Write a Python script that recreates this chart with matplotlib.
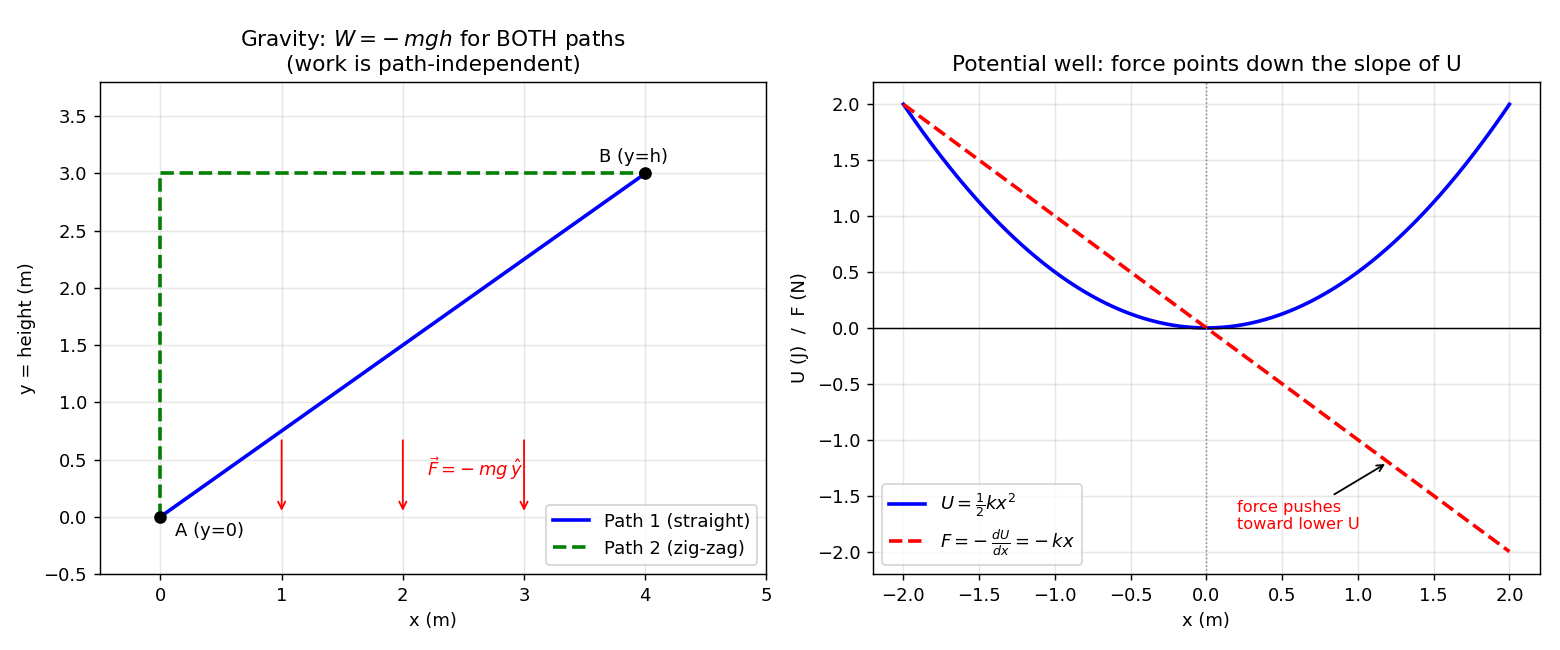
import numpy as np
import matplotlib
matplotlib.use("Agg")
from matplotlib import pyplot as plt

# left panel: two paths from A to B
path1_x = [0, 4]
path1_y = [0, 3]
path2_x = [0, 0, 4]
path2_y = [0, 3, 3]
arrow_x = [1, 2, 3]

# right panel: spring potential
k = 1.0
x = np.linspace(-2, 2, 400)
U = 0.5 * k * x**2
F = -k * x

fig, (ax1, ax2) = plt.subplots(1, 2, figsize=(12, 5), dpi=130)

ax1.plot(path1_x, path1_y, color="blue", lw=2, label="Path 1 (straight)")
ax1.plot(path2_x, path2_y, color="green", lw=2, ls="--", label="Path 2 (zig-zag)")
ax1.plot([path1_x[0], path1_x[-1]], [path1_y[0], path1_y[-1]], "ko", ms=6, zorder=5)
ax1.text(0.12, -0.17, "A (y=0)", fontsize=10)
ax1.text(3.62, 3.1, "B (y=h)", fontsize=10)
for xa in arrow_x:
    ax1.annotate("", xy=(xa, 0.02), xytext=(xa, 0.7),
                 arrowprops=dict(arrowstyle="->", color="red", lw=1))
ax1.text(2.2, 0.36, r"$\vec{F} = -\:mg\,\hat{y}$", color="red", fontsize=10)
ax1.set_xlim(-0.5, 5)
ax1.set_ylim(-0.5, 3.8)
ax1.set_xlabel("x (m)")
ax1.set_ylabel("y = height (m)")
ax1.set_title("Gravity: $W = -\\:mgh$ for BOTH paths\n(work is path-independent)")
ax1.grid(True, alpha=0.3)
ax1.legend(loc="lower right")

ax2.plot(x, U, color="blue", lw=2, label=r"$U = \frac{1}{2}kx^2$")
ax2.plot(x, F, color="red", lw=2, ls="--", label=r"$F = -\:\frac{dU}{dx} = -\:kx$")
ax2.axhline(0, color="black", lw=0.8)
ax2.axvline(0, color="gray", lw=0.8, ls=":")
ax2.annotate("force pushes\ntoward lower U", xy=(1.2, -1.2), xytext=(0.2, -1.8),
             color="red", fontsize=9,
             arrowprops=dict(arrowstyle="->", color="black", lw=1))
ax2.set_xlim(-2.2, 2.2)
ax2.set_ylim(-2.2, 2.2)
ax2.set_xlabel("x (m)")
ax2.set_ylabel("U (J)  /  F (N)")
ax2.set_title("Potential well: force points down the slope of U")
ax2.grid(True, alpha=0.3)
ax2.legend(loc="lower left")

plt.subplots_adjust(left=0.064, right=0.987, top=0.874, bottom=0.117, wspace=0.16)
plt.savefig("out.png")
